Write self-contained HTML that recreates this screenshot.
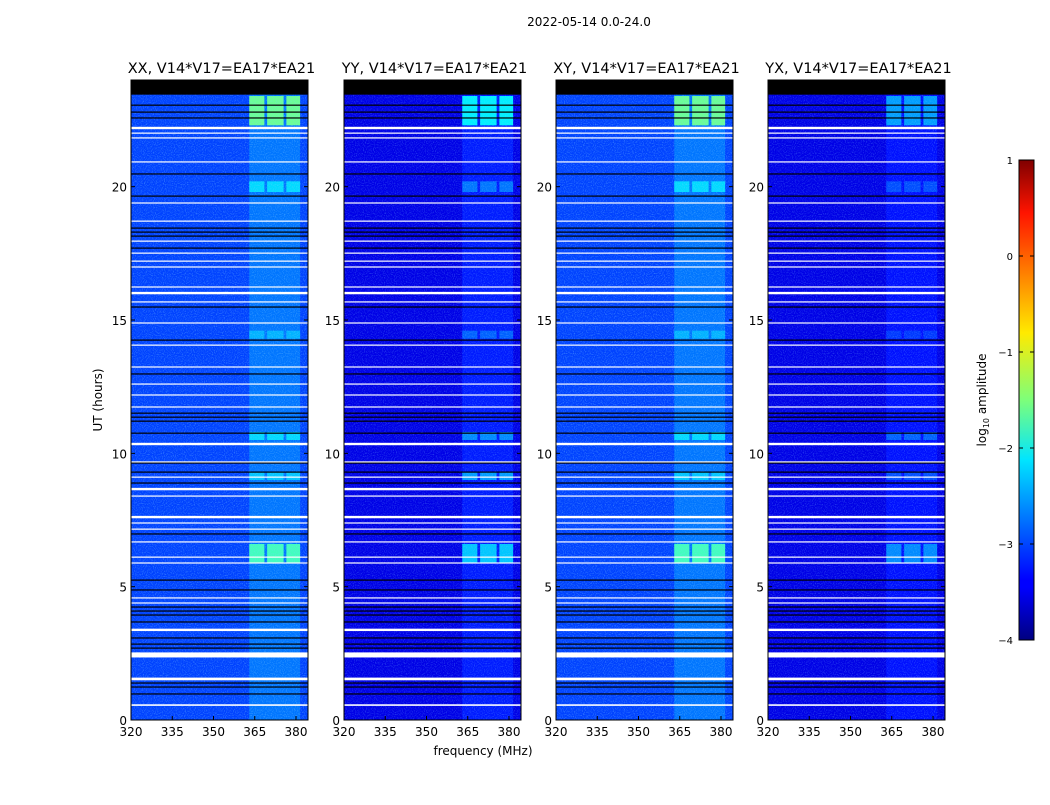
<!DOCTYPE html>
<html><head><meta charset="utf-8"><style>
body{margin:0;background:#fff;}
svg text{font-family:"DejaVu Sans","Liberation Sans",sans-serif;fill:#000;}
</style></head><body>
<svg id="fig" width="1050" height="800" xmlns="http://www.w3.org/2000/svg">
<defs>
<linearGradient id="jet" x1="0" y1="1" x2="0" y2="0">
<stop offset="0" stop-color="#000080"/><stop offset="0.11" stop-color="#0000ff"/>
<stop offset="0.125" stop-color="#0000ff"/><stop offset="0.375" stop-color="#00e5ff"/>
<stop offset="0.5" stop-color="#7dff7a"/><stop offset="0.64" stop-color="#ffea00"/>
<stop offset="0.89" stop-color="#ff1400"/><stop offset="1" stop-color="#800000"/>
</linearGradient>
<filter id="speck" x="0" y="0" width="100%" height="100%">
<feTurbulence type="fractalNoise" baseFrequency="0.9" numOctaves="1" seed="3"/>
<feColorMatrix type="matrix" values="0 0 0 0 0.2  0 0 0 0 0.6  0 0 0 0 1  0 0 0 3 -1.4"/>
</filter>
</defs>
<text x="589" y="26" font-size="12" text-anchor="middle">2022-05-14 0.0-24.0</text>
<text x="483" y="755" font-size="12" text-anchor="middle">frequency (MHz)</text>
<text x="102" y="400" font-size="12" text-anchor="middle" transform="rotate(-90 102 400)">UT (hours)</text>
<g id="panels"></g>
<g id="cbar">
<rect x="1019" y="160" width="15" height="480" fill="url(#jet)" stroke="#000" stroke-width="1"/>
</g>
<text x="986" y="400" font-size="12" text-anchor="middle" transform="rotate(-90 986 400)">log<tspan font-size="8" dy="3">10</tspan><tspan dy="-3"> amplitude</tspan></text>
</svg>
<script>
const panelTitles=["XX, V14*V17=EA17*EA21","YY, V14*V17=EA17*EA21","XY, V14*V17=EA17*EA21","YX, V14*V17=EA17*EA21"];
const baseLevel=[-3.05,-3.5,-3.05,-3.5];
const bandLevel=[-2.8,-3.25,-2.8,-3.3];
const subBands=[[363,368.5],[369.5,375.5],[376.5,381.5]];
const eventStart=[22.3,19.8,10.5,9.0,5.9,14.3];
const eventEnd=[23.4,20.2,10.8,9.3,6.6,14.6];
const eventLevel=[[-1.6,-2.2,-1.6,-2.6],[-2.3,-2.8,-2.3,-3.0],[-2.3,-2.7,-2.3,-2.9],[-2.4,-2.6,-2.4,-3.0],[-1.8,-2.4,-1.8,-2.7],[-2.5,-2.9,-2.5,-3.1]];
const whiteRows=[22.2,22.01,21.83,20.93,19.39,18.71,17.96,17.51,17.21,16.99,16.24,16.01,15.68,14.89,14.06,13.24,12.6,12.19,11.74,10.35,9.68,9.11,8.66,8.4,7.61,7.39,7.16,6.68,6.11,5.89,4.58,4.39,3.38,2.44,1.54,0.56];
const whiteWidth=[0.09,0.04,0.04,0.04,0.04,0.04,0.04,0.04,0.04,0.04,0.04,0.09,0.04,0.04,0.04,0.04,0.04,0.04,0.04,0.09,0.04,0.04,0.09,0.04,0.09,0.04,0.04,0.04,0.04,0.04,0.04,0.04,0.09,0.19,0.1,0.06];
const blackRows=[23.06,22.8,22.58,20.48,19.65,18.45,18.3,18.15,17.7,15.49,14.25,12.98,11.51,11.36,11.21,10.76,9.64,9.3,8.89,6.98,5.25,4.88,4.24,4.09,3.94,3.68,3.08,2.85,2.7,1.39,1.24,0.98];
const topBlank=[23.45,24];
const xTicks=[320,335,350,365,380];
const yTicks=[0,5,10,15,20];
const cbTicks=[1,0,-1,-2,-3,-4];

const NS="http://www.w3.org/2000/svg";
const lefts=[131,344,556,768],PW=177,TOP=80,PH=640;
function jet(v){let t=(v+4)/5;t=Math.max(0,Math.min(1,t));
 const c=x=>Math.round(255*Math.max(0,Math.min(1,x)));
 return `rgb(${c(1.5-Math.abs(4*t-3))},${c(1.5-Math.abs(4*t-2))},${c(1.5-Math.abs(4*t-1))})`;}
function mk(tag,attrs,parent){const e=document.createElementNS(NS,tag);for(const k in attrs)e.setAttribute(k,attrs[k]);parent.appendChild(e);return e;}
const root=document.getElementById('panels');
lefts.forEach((L,p)=>{
 const xs=f=>L+(f-320)*2.75, ys=h=>TOP+PH-h*PH/24;
 const g=mk('g',{},root);
 
 
 const bg=mk('rect',{x:L,y:TOP,width:PW,height:PH,fill:jet(baseLevel[p])},g);
 
 
 const band=mk('rect',{x:xs(subBands[0][0]),y:TOP,width:xs(subBands[2][1])-xs(subBands[0][0]),height:PH,fill:jet(bandLevel[p])},g);
 
 
 eventStart.forEach((s,i)=>{subBands.forEach(sb=>{
  const r=mk('rect',{x:xs(sb[0]),y:ys(eventEnd[i]),width:xs(sb[1])-xs(sb[0]),height:ys(s)-ys(eventEnd[i]),fill:jet(eventLevel[i][p])},g);
  
  });});
 const sp=mk('rect',{x:L,y:TOP,width:PW,height:PH,filter:'url(#speck)',opacity:p%2?0.3:0.4},g);
 
 
 blackRows.forEach(h=>{const r=mk('rect',{x:L,y:ys(h)-0.5,width:PW,height:1.2,fill:'#000'},g);
  
  });
 whiteRows.forEach((h,i)=>{const r=mk('rect',{x:L,y:ys(h)-whiteWidth[i]*PH/48,width:PW,height:Math.max(1.2,whiteWidth[i]*PH/24),fill:'#fff'},g);
  
  });
 const tb=mk('rect',{x:L,y:ys(topBlank[1]),width:PW,height:ys(topBlank[0])-ys(topBlank[1]),fill:'#000'},g);
 
 
 const fr=mk('rect',{x:L,y:TOP,width:PW,height:PH,fill:'none',stroke:'#000','stroke-width':1},g);
 
 
 const t=mk('text',{x:L+PW/2+2,y:73,'font-size':14.5,'text-anchor':'middle'},g);t.textContent=panelTitles[p];
 
 
 xTicks.forEach(f=>{const x=xs(f);
  mk('line',{x1:x,x2:x,y1:TOP+PH,y2:TOP+PH-4,stroke:'#000'},g);
  mk('line',{x1:x,x2:x,y1:TOP,y2:TOP+4,stroke:'#000'},g);
  const l=mk('text',{x:x,y:736,'font-size':12,'text-anchor':'middle'},g);l.textContent=f;
  
  });
 yTicks.forEach(h=>{const y=ys(h);
  mk('line',{x1:L,x2:L+4,y1:y,y2:y,stroke:'#000'},g);
  mk('line',{x1:L+PW,x2:L+PW-4,y1:y,y2:y,stroke:'#000'},g);
  const l=mk('text',{x:L-4,y:y+5,'font-size':12,'text-anchor':'end'},g);l.textContent=h;
  
  });
});
const cb=document.getElementById('cbar');
cbTicks.forEach(v=>{const y=160+(1-v)*96;
 mk('line',{x1:1019,x2:1023,y1:y,y2:y,stroke:'#000'},cb);
 mk('line',{x1:1030,x2:1034,y1:y,y2:y,stroke:'#000'},cb);
 const l=mk('text',{x:1013,y:y+4,'font-size':10,'text-anchor':'end'},cb);l.textContent=v<0?'\u2212'+(-v):v;
 
 });
</script>
</body></html>
